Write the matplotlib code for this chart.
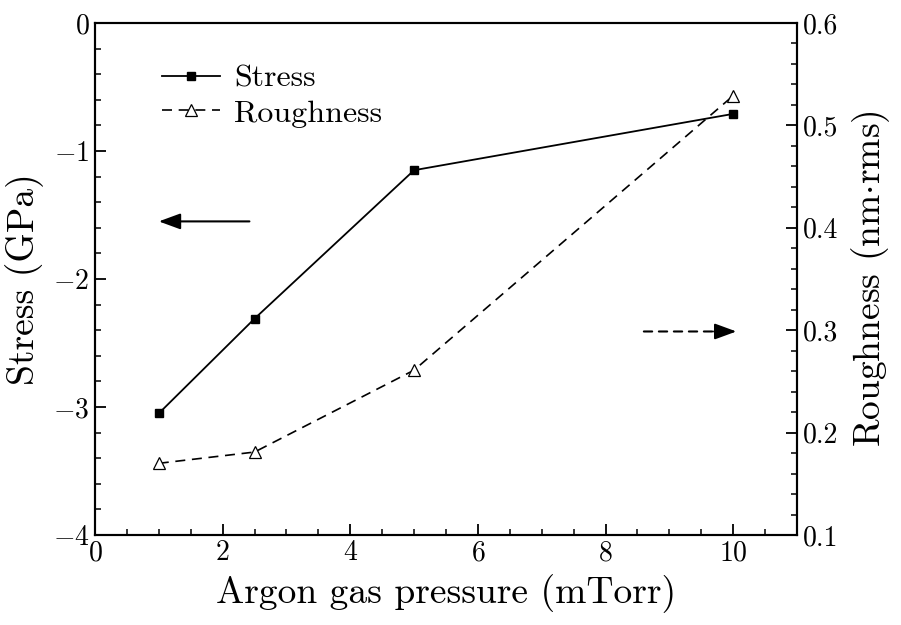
import numpy as np
import matplotlib
matplotlib.use("Agg")
import matplotlib.pyplot as plt
from matplotlib.ticker import MultipleLocator

plt.rcParams['font.family'] = 'serif'
plt.rcParams['font.serif'] = ['cmr10']
plt.rcParams['mathtext.fontset'] = 'cm'
plt.rcParams['axes.formatter.use_mathtext'] = True

# data
pressure = [1, 2.5, 5, 10]
stress = [-3.05, -2.31, -1.15, -0.71]
roughness = [0.170, 0.181, 0.261, 0.529]

fig = plt.figure(figsize=(9.01, 6.25), dpi=100)
ax = fig.add_axes([0.1054, 0.144, 0.7792, 0.8192])
ax2 = ax.twinx()

l1, = ax.plot(pressure, stress, '-', color='black', lw=1.3,
              marker='s', ms=6, mfc='black', mec='black', label='Stress')
l2, = ax2.plot(pressure, roughness, '--', color='black', lw=1.2, dashes=(6, 4),
               marker='^', ms=9, mfc='white', mec='black', mew=0.9, label='Roughness')

ax.set_xlim(0, 11)
ax.set_ylim(-4, 0)
ax2.set_ylim(0.1, 0.6)

ax.xaxis.set_major_locator(MultipleLocator(2))
ax.xaxis.set_minor_locator(MultipleLocator(0.5))
ax.yaxis.set_major_locator(MultipleLocator(1))
ax.yaxis.set_minor_locator(MultipleLocator(0.2))
ax2.yaxis.set_major_locator(MultipleLocator(0.1))
ax2.yaxis.set_minor_locator(MultipleLocator(0.02))

for a in (ax, ax2):
    a.tick_params(which='major', direction='in', length=8, width=1.3, labelsize=20)
    a.tick_params(which='minor', direction='in', length=4, width=1.1)
    for s in a.spines.values():
        s.set_linewidth(1.5)
ax.tick_params(axis='both', which='both', top=False, right=False)
ax.tick_params(axis='y', pad=4)
ax2.tick_params(axis='y', pad=4)

ax.yaxis.set_major_formatter(matplotlib.ticker.FuncFormatter(
    lambda v, p: '0' if v == 0 else r'$-%d$' % abs(v)))
ax2.yaxis.set_major_formatter(matplotlib.ticker.FormatStrFormatter('%.1f'))

ax.set_xlabel('Argon gas pressure (mTorr)', fontsize=27, labelpad=6)
ax.set_ylabel('Stress (GPa)', fontsize=27, labelpad=6)
ax2.set_ylabel(r'Roughness (nm$\cdot$rms)', fontsize=27, labelpad=8)

leg = ax.legend([l1, l2], ['Stress', 'Roughness'], loc='upper left',
                bbox_to_anchor=(0.055, 0.975), frameon=False, fontsize=23,
                handlelength=1.8, handletextpad=0.45, labelspacing=0.2)

# direction arrows
head = dict(arrowstyle='-|>,head_length=0.6,head_width=0.22', color='black',
            lw=1.5, mutation_scale=22, shrinkA=0, shrinkB=0)
ax.annotate('', xy=(1.0, -1.55), xytext=(2.42, -1.55), arrowprops=head)
# dashed shaft + solid head for the right-pointing arrow
ax.annotate('', xy=(9.75, -2.41), xytext=(8.6, -2.41),
            arrowprops=dict(arrowstyle='-', color='black', lw=1.5,
                            ls=(0, (4, 3.2)), shrinkA=0, shrinkB=0))
ax.annotate('', xy=(10.05, -2.41), xytext=(9.7, -2.41), arrowprops=head)

fig.savefig('out.png', dpi=100)
